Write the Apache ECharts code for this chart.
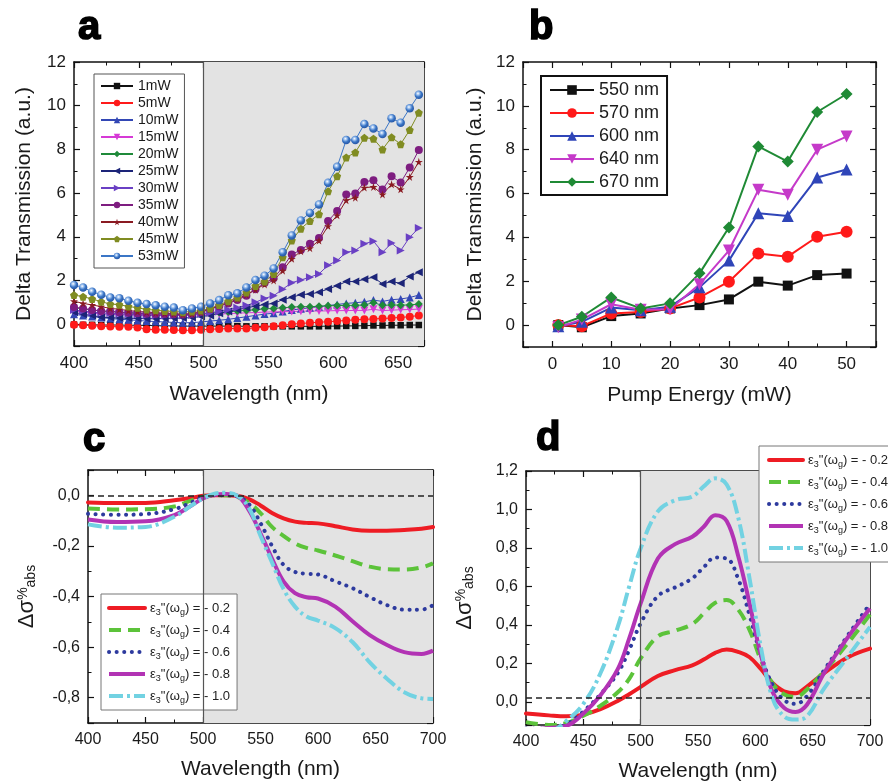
<!DOCTYPE html>
<html>
<head>
<meta charset="utf-8">
<script src="https://cdn.jsdelivr.net/npm/echarts@6/dist/echarts.min.js"></script>
<style>
  html, body { margin: 0; padding: 0; background: #fff; }
  #chart { width: 888px; height: 783px; }
</style>
</head>
<body>
<div id="chart"></div>
<script>
// panel a: delta transmission spectra for each pump power
const wlA = [400,407,414,421,428,435,442,449,456,463,470,477,484,491,498,505,512,519,526,533,540,547,554,561,568,575,582,589,596,603,610,617,624,631,638,645,652,659,666];
const mw1 = [-0.02,-0.03,-0.03,-0.04,-0.04,-0.04,-0.05,-0.05,-0.06,-0.07,-0.08,-0.08,-0.09,-0.09,-0.09,-0.09,-0.09,-0.09,-0.09,-0.10,-0.10,-0.10,-0.10,-0.10,-0.10,-0.10,-0.10,-0.10,-0.09,-0.09,-0.08,-0.08,-0.07,-0.06,-0.06,-0.05,-0.05,-0.04,-0.04];
const mw5 = [-0.03,-0.05,-0.07,-0.10,-0.11,-0.12,-0.12,-0.15,-0.23,-0.26,-0.26,-0.27,-0.28,-0.28,-0.26,-0.23,-0.22,-0.20,-0.20,-0.20,-0.17,-0.14,-0.10,-0.05,0.00,0.03,0.06,0.09,0.11,0.14,0.17,0.20,0.22,0.24,0.26,0.28,0.31,0.34,0.40];
const mw10 = [0.45,0.40,0.35,0.30,0.26,0.22,0.20,0.17,0.14,0.12,0.10,0.08,0.06,0.07,0.10,0.14,0.18,0.22,0.28,0.34,0.40,0.46,0.50,0.58,0.65,0.70,0.75,0.80,0.85,0.90,0.95,0.98,1.02,1.10,1.04,1.12,1.15,1.22,1.33];
const mw15 = [0.60,0.55,0.50,0.47,0.45,0.43,0.42,0.41,0.40,0.40,0.40,0.40,0.40,0.41,0.42,0.44,0.46,0.48,0.50,0.52,0.53,0.55,0.56,0.57,0.58,0.59,0.60,0.60,0.61,0.62,0.62,0.63,0.63,0.68,0.62,0.64,0.66,0.67,0.69];
const mw20 = [0.75,0.70,0.65,0.60,0.58,0.55,0.52,0.50,0.48,0.47,0.46,0.45,0.45,0.46,0.48,0.50,0.53,0.56,0.60,0.63,0.66,0.70,0.72,0.75,0.78,0.80,0.80,0.82,0.84,0.85,0.86,0.86,0.88,0.98,0.86,0.88,0.87,0.88,0.92];
const mw25 = [0.55,0.45,0.40,0.32,0.30,0.28,0.27,0.26,0.25,0.25,0.26,0.27,0.28,0.30,0.35,0.40,0.50,0.58,0.66,0.75,0.82,0.90,0.95,1.12,1.23,1.35,1.38,1.46,1.61,1.76,1.95,1.95,2.05,2.15,1.84,1.95,1.87,2.18,2.38];
const mw30 = [0.65,0.60,0.55,0.52,0.50,0.48,0.46,0.44,0.42,0.41,0.40,0.40,0.40,0.42,0.48,0.52,0.58,0.66,0.75,0.85,1.00,1.18,1.30,1.60,1.90,2.02,2.15,2.30,2.70,2.91,3.29,3.37,3.68,3.80,3.29,3.71,3.37,3.98,4.40];
const mw35 = [0.78,0.72,0.65,0.60,0.58,0.55,0.52,0.50,0.48,0.47,0.46,0.45,0.44,0.48,0.56,0.68,0.82,0.95,1.10,1.30,1.60,1.88,2.10,2.60,3.19,3.40,3.68,3.94,4.72,5.18,5.93,5.98,6.51,6.59,6.16,6.77,6.48,7.17,7.97];
const mw40 = [1.05,0.95,0.88,0.80,0.72,0.68,0.62,0.58,0.55,0.52,0.50,0.48,0.45,0.48,0.55,0.68,0.85,0.98,1.15,1.35,1.58,1.82,2.00,2.45,2.99,3.34,3.48,3.83,4.49,4.98,5.67,5.79,6.25,6.28,5.94,6.40,6.17,6.74,7.43];
const mw45 = [1.33,1.26,1.15,1.03,0.92,0.89,0.81,0.75,0.67,0.64,0.60,0.58,0.55,0.58,0.62,0.72,0.88,1.05,1.22,1.45,1.75,1.95,2.30,3.06,3.83,4.37,4.72,5.03,6.08,6.77,7.63,7.86,8.53,8.49,8.00,8.55,8.24,8.89,9.68];
const mw53 = [1.79,1.68,1.48,1.35,1.22,1.19,1.07,0.98,0.92,0.86,0.80,0.76,0.64,0.72,0.80,0.95,1.10,1.32,1.41,1.68,2.02,2.22,2.55,3.29,4.06,4.75,5.09,5.48,6.47,7.20,8.43,8.43,9.16,8.96,8.70,9.42,9.22,9.88,10.50];

// panel b: delta transmission vs pump energy
const pumpB = [1,5,10,15,20,25,30,35,40,45,50];
const nm550 = [0,-0.10,0.41,0.53,0.76,0.91,1.17,1.98,1.80,2.28,2.35];
const nm570 = [0,-0.05,0.53,0.60,0.76,1.26,1.98,3.27,3.12,4.03,4.26];
const nm600 = [-0.05,0.15,0.80,0.68,0.84,1.72,2.94,5.10,4.98,6.73,7.10];
const nm640 = [-0.10,0.25,0.95,0.70,0.72,1.86,3.40,6.17,5.94,8.00,8.60];
const nm670 = [0,0.38,1.26,0.76,0.99,2.36,4.45,8.15,7.46,9.72,10.54];

// panel c: model, negative change
const wlC = [400,425,450,475,490,500,510,520,530,540,550,560,570,580,590,600,615,630,645,660,675,690,700];
const c02 = [-0.028,-0.030,-0.030,-0.020,-0.010,-0.002,0,0,-0.002,-0.015,-0.040,-0.070,-0.091,-0.104,-0.109,-0.111,-0.122,-0.135,-0.140,-0.140,-0.137,-0.132,-0.125];
const c04 = [-0.052,-0.056,-0.055,-0.044,-0.020,-0.007,0,0,-0.006,-0.030,-0.070,-0.125,-0.160,-0.190,-0.208,-0.218,-0.238,-0.260,-0.282,-0.292,-0.293,-0.285,-0.269];
const c06 = [-0.073,-0.077,-0.074,-0.055,-0.028,-0.008,0,0,-0.005,-0.035,-0.110,-0.200,-0.275,-0.303,-0.310,-0.313,-0.340,-0.367,-0.402,-0.434,-0.452,-0.452,-0.434];
const c08 = [-0.096,-0.106,-0.103,-0.078,-0.040,-0.012,0.002,0.005,-0.003,-0.060,-0.150,-0.250,-0.340,-0.387,-0.403,-0.408,-0.440,-0.498,-0.553,-0.592,-0.620,-0.627,-0.614];
const c10 = [-0.115,-0.128,-0.125,-0.085,-0.040,-0.012,0.006,0.010,-0.002,-0.050,-0.160,-0.265,-0.370,-0.440,-0.479,-0.495,-0.525,-0.580,-0.660,-0.725,-0.778,-0.802,-0.805];

// panel d: model, positive change
const wlD = [400,420,435,450,465,480,490,500,515,530,545,555,565,575,585,595,605,615,625,635,645,660,680,700];
const d02 = [-0.060,-0.070,-0.075,-0.066,-0.038,0.005,0.040,0.078,0.135,0.165,0.190,0.220,0.255,0.272,0.260,0.232,0.170,0.098,0.055,0.045,0.080,0.150,0.230,0.277];
const d04 = [-0.105,-0.120,-0.110,-0.072,-0.020,0.050,0.120,0.226,0.340,0.370,0.405,0.460,0.515,0.529,0.480,0.373,0.215,0.096,0.040,0.026,0.065,0.160,0.300,0.455];
const d06 = [-0.138,-0.140,-0.118,-0.050,0.040,0.150,0.270,0.408,0.550,0.595,0.642,0.700,0.750,0.745,0.640,0.450,0.240,0.090,0.010,-0.010,0.030,0.165,0.340,0.510];
const d08 = [-0.150,-0.135,-0.125,-0.060,0.035,0.170,0.330,0.512,0.745,0.820,0.858,0.910,0.970,0.940,0.760,0.510,0.240,0.052,-0.030,-0.052,-0.015,0.150,0.330,0.485];
const d10 = [-0.180,-0.160,-0.100,-0.010,0.150,0.390,0.600,0.798,0.990,1.048,1.067,1.120,1.162,1.130,0.960,0.640,0.280,0.020,-0.075,-0.092,-0.075,0.070,0.230,0.390];

const epsNames = ['ε3"(ωg) = - 0.2', 'ε3"(ωg) = - 0.4', 'ε3"(ωg) = - 0.6', 'ε3"(ωg) = - 0.8', 'ε3"(ωg) = - 1.0'];

const font = 'Liberation Sans, Arial, sans-serif';
const pair = (xs, ys) => xs.map((x, i) => [x, ys[i]]);
const comma = v => (Math.abs(v) < 1e-9 ? 0 : v).toFixed(1).replace('.', ',');

const star = 'path://M50,0 L61,35 L98,35 L68,57 L79,91 L50,70 L21,91 L32,57 L2,35 L39,35 Z';
const pentagon = 'path://M50,0 L98,35 L79,91 L21,91 L2,35 Z';

function xAxes(gi, min, max, name, extra) {
    const base = {
        gridIndex: gi, type: 'value', min: min, max: max,
        axisLine: { show: true, onZero: false, lineStyle: { color: '#111', width: 1.5 } },
        axisTick: { show: true, inside: true, length: 6, lineStyle: { color: '#111', width: 1.2 } },
        minorTick: { show: true, splitNumber: 2, length: 3.5, lineStyle: { color: '#111', width: 1 } },
        splitLine: { show: false },
    };
    return [
        Object.assign({}, base, {
            position: 'bottom',
            axisLabel: Object.assign({ fontSize: 17, color: '#1a1a1a', fontFamily: font, margin: 9 }, extra.label || {}),
            name: name, nameLocation: 'middle', nameGap: extra.nameGap || 38,
            nameTextStyle: { fontSize: 21, color: '#1a1a1a', fontFamily: font },
        }, extra.axis || {}),
        Object.assign({}, base, { position: 'top', axisLabel: { show: false } }, extra.axis || {}),
    ];
}

function yAxes(gi, min, max, name, extra) {
    const base = {
        gridIndex: gi, type: 'value', min: min, max: max,
        axisLine: { show: true, onZero: false, lineStyle: { color: '#111', width: 1.5 } },
        axisTick: { show: true, inside: true, length: 6, lineStyle: { color: '#111', width: 1.2 } },
        minorTick: { show: true, splitNumber: 2, length: 3.5, lineStyle: { color: '#111', width: 1 } },
        splitLine: { show: false },
    };
    return [
        Object.assign({}, base, {
            position: 'left',
            axisLabel: Object.assign({ fontSize: 17, color: '#1a1a1a', fontFamily: font, margin: 8, showMinLabel: false, showMaxLabel: true }, extra.label || {}),
            name: name, nameLocation: 'middle', nameGap: extra.nameGap || 40,
            nameTextStyle: Object.assign({ fontSize: 21, color: '#1a1a1a', fontFamily: font }, extra.nameStyle || {}),
        }, extra.axis || {}),
        Object.assign({}, base, { position: 'right', axisLabel: { show: false } }, extra.axis || {}),
    ];
}

function shade(gi, from, to, hLine) {
    const s = {
        type: 'line', xAxisIndex: gi * 2, yAxisIndex: gi * 2, data: [], z: 1, silent: true,
        markArea: { silent: true, itemStyle: { color: '#e3e3e3' }, data: [[{ xAxis: from }, { xAxis: to }]] },
        markLine: {
            silent: true, symbol: 'none', label: { show: false },
            data: [{ xAxis: from, lineStyle: { color: '#555', width: 1.2, type: 'solid' } }],
        },
    };
    if (hLine !== undefined) {
        s.markLine.data.push({ yAxis: hLine, lineStyle: { color: '#222', width: 1.5, type: [6, 4] } });
    }
    return s;
}

const aStyle = [
    ['1mW', mw1, '#111111', 'rect', 0],
    ['5mW', mw5, '#ff1a1a', 'circle', 0],
    ['10mW', mw10, '#3347b5', 'triangle', 0],
    ['15mW', mw15, '#d63ad6', 'triangle', 180],
    ['20mW', mw20, '#1f8a3a', 'diamond', 0],
    ['25mW', mw25, '#1c2478', 'triangle', 90],
    ['30mW', mw30, '#6a40c4', 'triangle', -90],
    ['35mW', mw35, '#7e1d80', 'circle', 0],
    ['40mW', mw40, '#8a1a22', star, 0],
    ['45mW', mw45, '#808c22', pentagon, 0],
    ['53mW', mw53, '#3b76c6', 'circle', 0],
];

const bStyle = [
    ['550 nm', nm550, '#111111', 'rect'],
    ['570 nm', nm570, '#ff1a1a', 'circle'],
    ['600 nm', nm600, '#2f45b8', 'triangle'],
    ['640 nm', nm640, '#c53ac9', 'triangle'],
    ['670 nm', nm670, '#1f8a35', 'diamond'],
];

const curveStyle = [
    ['#ee1c24', 'solid', 'round'],
    ['#5cc33a', [12, 7], 'butt'],
    ['#2d3a9e', [0.1, 7.5], 'round'],
    ['#b233b4', 'solid', 'butt'],
    ['#72d2e2', [14, 4, 3, 4], 'butt'],
];

const series = [];
series.push(shade(0, 500, 670));
aStyle.forEach(([name, vals, color, sym, rot]) => {
    const s = {
        name: name, type: 'line', xAxisIndex: 0, yAxisIndex: 0, data: pair(wlA, vals),
        symbol: sym, symbolSize: sym === 'rect' ? 6.5 : 8, symbolRotate: rot, showAllSymbol: true,
        lineStyle: { color: color, width: 1 }, itemStyle: { color: color }, z: 3,
    };
    if (name === '53mW') {
        s.itemStyle = {
            color: { type: 'radial', x: 0.4, y: 0.35, r: 0.6, colorStops: [{ offset: 0, color: '#ffffff' }, { offset: 0.3, color: '#9cc0ee' }, { offset: 0.65, color: '#3b76c6' }, { offset: 1, color: '#2a5cab' }] },
        };
        s.symbolSize = 8.5;
    }
    series.push(s);
});
bStyle.forEach(([name, vals, color, sym], i) => {
    series.push({
        name: name, type: 'line', xAxisIndex: 2, yAxisIndex: 2, data: pair(pumpB, vals),
        symbol: sym, symbolSize: sym === 'rect' ? 10 : 12, symbolRotate: i === 3 ? 180 : 0,
        lineStyle: { color: color, width: 2 }, itemStyle: { color: color }, z: 3,
    });
});
series.push(shade(2, 500, 700, 0));
[c02, c04, c06, c08, c10].forEach((vals, i) => {
    series.push({
        name: epsNames[i], type: 'line', xAxisIndex: 4, yAxisIndex: 4, data: pair(wlC, vals),
        symbol: 'none', smooth: 0.4,
        lineStyle: { color: curveStyle[i][0], width: 4, type: curveStyle[i][1], cap: curveStyle[i][2] },
        itemStyle: { color: curveStyle[i][0] }, z: 3,
    });
});
series.push(shade(3, 500, 700, 0.02));
[d02, d04, d06, d08, d10].forEach((vals, i) => {
    series.push({
        name: epsNames[i], type: 'line', xAxisIndex: 6, yAxisIndex: 6, data: pair(wlD, vals),
        symbol: 'none', smooth: 0.4,
        lineStyle: { color: curveStyle[i][0], width: 4, type: curveStyle[i][1], cap: curveStyle[i][2] },
        itemStyle: { color: curveStyle[i][0] }, z: 3,
    });
});

const epsRich = {
    sub: { fontSize: 9, lineHeight: 8, verticalAlign: 'bottom', fontFamily: font, color: '#222' },
};
const epsFmt = n => n.replace('ε3', 'ε{sub|3}').replace('ωg', 'ω{sub|g}');
const sigmaName = 'Δσ{sup|%}{sub|abs}';
const sigmaRich = {
    sup: { fontSize: 14, lineHeight: 14, verticalAlign: 'top', fontFamily: font, color: '#1a1a1a' },
    sub: { fontSize: 14, lineHeight: 12, verticalAlign: 'bottom', fontFamily: font, color: '#1a1a1a' },
};

const letter = (t, left, top) => ({
    text: t, left: left, top: top,
    textStyle: { fontSize: 40, fontWeight: 'bold', fontFamily: font, color: '#000', textBorderColor: '#000', textBorderWidth: 1.6 },
});

const chart = echarts.init(document.getElementById('chart'), null, { renderer: 'canvas' });
chart.setOption({
    animation: false,
    backgroundColor: '#fff',
    title: [letter('a', 73, 3), letter('b', 524, 3), letter('c', 78, 415), letter('d', 531, 414)],
    grid: [
        { left: 74, top: 62, width: 350, height: 284 },
        { left: 523, top: 62, width: 353, height: 285 },
        { left: 88, top: 470, width: 345, height: 253 },
        { left: 526, top: 471, width: 344, height: 254 },
    ],
    xAxis: [].concat(
        xAxes(0, 400, 670, 'Wavelength (nm)', { axis: { interval: 50 }, label: { showMaxLabel: false } }),
        xAxes(1, -5, 55, 'Pump Energy (mW)', { axis: { splitNumber: 6 }, label: { showMinLabel: false, showMaxLabel: false } }),
        xAxes(2, 400, 700, 'Wavelength (nm)', { axis: { interval: 50 }, label: { fontSize: 16 }, nameGap: 36 }),
        xAxes(3, 400, 700, 'Wavelength (nm)', { axis: { interval: 50 }, label: { fontSize: 16 }, nameGap: 36 })
    ),
    yAxis: [].concat(
        yAxes(0, -1, 12, 'Delta Transmission (a.u.)', { axis: { splitNumber: 6 }, nameGap: 39 }),
        yAxes(1, -1, 12, 'Delta Transmission (a.u.)', { axis: { splitNumber: 6 }, nameGap: 37 }),
        yAxes(2, -0.9, 0.1, sigmaName, {
            axis: { splitNumber: 5 }, nameGap: 50,
            label: { fontSize: 16, formatter: comma, showMaxLabel: false },
            nameStyle: { fontSize: 22, rich: sigmaRich },
        }),
        yAxes(3, -0.12, 1.2, sigmaName, {
            axis: { splitNumber: 6 }, nameGap: 50,
            label: { fontSize: 16, formatter: comma },
            nameStyle: { fontSize: 22, rich: sigmaRich },
        })
    ),
    legend: [
        {
            data: aStyle.map(s => s[0]), orient: 'vertical', left: 94, top: 74,
            itemWidth: 32, itemHeight: 8, itemGap: 3, padding: [5, 6, 5, 6],
            backgroundColor: '#fff', borderColor: '#555', borderWidth: 1, borderRadius: 0,
            textStyle: { fontSize: 14, color: '#1a1a1a', fontFamily: font },
        },
        {
            data: bStyle.map(s => s[0]), orient: 'vertical', left: 541, top: 76,
            itemWidth: 44, itemHeight: 12, itemGap: 5, padding: [5, 8, 4, 8],
            backgroundColor: '#fff', borderColor: '#111', borderWidth: 2, borderRadius: 0,
            textStyle: { fontSize: 18, color: '#1a1a1a', fontFamily: font },
        },
        {
            data: epsNames, orient: 'vertical', left: 101, top: 594,
            itemWidth: 36, itemHeight: 12, itemGap: 4, padding: [5, 7, 5, 6],
            backgroundColor: '#fff', borderColor: '#777', borderWidth: 1, borderRadius: 0,
            itemStyle: { opacity: 0 }, lineStyle: { width: 4 },
            formatter: epsFmt,
            textStyle: { fontSize: 13, lineHeight: 18, color: '#222', fontFamily: font, rich: epsRich },
        },
        {
            data: epsNames, orient: 'vertical', left: 759, top: 446,
            itemWidth: 34, itemHeight: 12, itemGap: 4, padding: [5, 6, 5, 8],
            backgroundColor: '#fff', borderColor: '#777', borderWidth: 1, borderRadius: 0,
            itemStyle: { opacity: 0 }, lineStyle: { width: 4 },
            formatter: epsFmt,
            textStyle: { fontSize: 13, lineHeight: 18, color: '#222', fontFamily: font, rich: epsRich },
        },
    ],
    series: series,
});
</script>
</body>
</html>
